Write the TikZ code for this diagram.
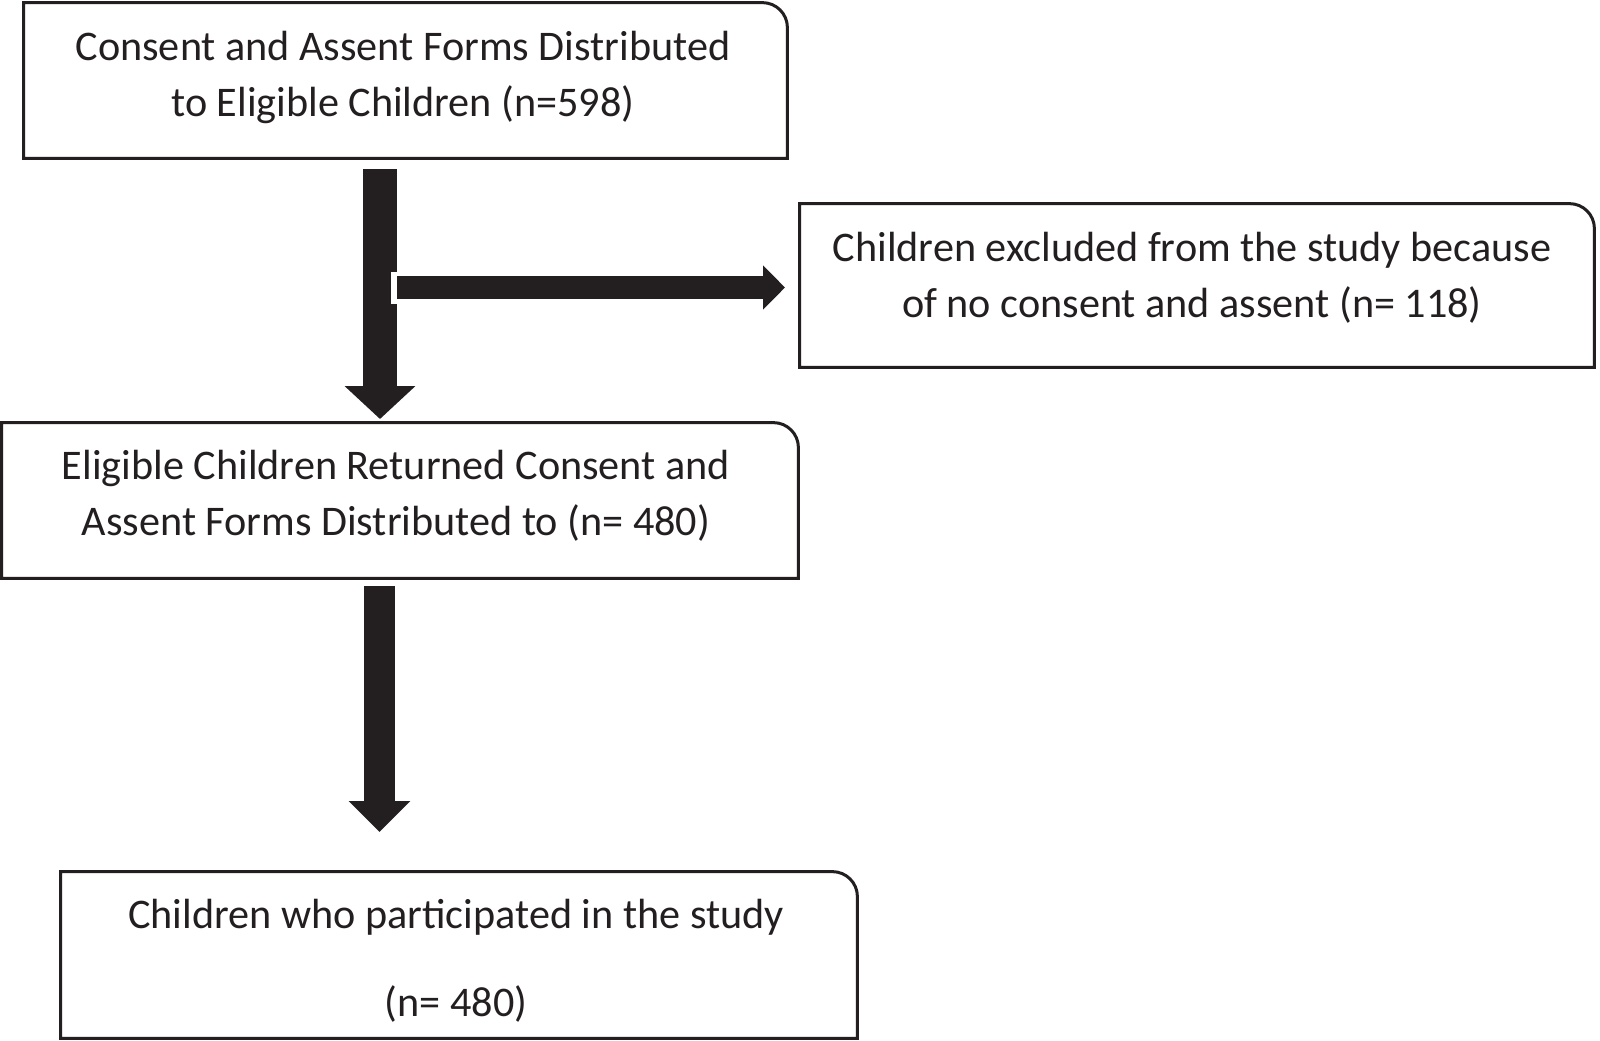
\documentclass[tikz,border=0pt]{standalone}
\usepackage{fontspec}
\setmainfont{Carlito}
\usetikzlibrary{arrows.meta}
\definecolor{ink}{HTML}{231F20}
\newcommand\tlframe[1]{\draw[frameline] (#1.south west) -- (#1.north west) -- ([xshift=-12.5pt]#1.north east) arc[start angle=90,end angle=0,radius=12.5pt] -- (#1.south east) -- cycle;}
\begin{document}
\begin{tikzpicture}[x=0.5pt,y=-0.5pt,
  boxarea/.style 2 args={draw=none,inner sep=0pt,minimum width=#1,minimum height=#2},
  frameline/.style={draw=ink,line width=1.5pt,line join=miter},
  txt/.style={align=center,inner sep=0pt,text=ink,font=\fontsize{21.1pt}{28pt}\selectfont},
  bigdown/.style={draw=ink,line width=17pt,-{Triangle[width=34.5pt,length=16.5pt]}},
  bigdowntwo/.style={draw=ink,line width=15.5pt,-{Triangle[width=30pt,length=15.5pt]}},
  bigright/.style={draw=ink,line width=11.5pt,-{Triangle[width=21.5pt,length=11pt]}}]
\useasboundingbox (0,0) rectangle (1600,1040);
\fill[white] (0,0) rectangle (1600,1040);
% boxes
\node[boxarea={381.5pt}{77.5pt}] (b1) at (405.5,80.5) {};
\node[boxarea={397pt}{81.5pt}] (b2) at (1197,285.5) {};
\node[boxarea={398pt}{77.5pt}] (b3) at (400,500.5) {};
\node[boxarea={398pt}{83pt}] (b4) at (459,955) {};
\tlframe{b1}
\tlframe{b2}
\tlframe{b3}
\tlframe{b4}
% texts
\node[txt] (t1) at (403,77) {Consent and Assent Forms Distributed\\to Eligible Children (n=598)};
\node[txt] (t2) at (1192,277.5) {Children excluded from the study because\\of no consent and assent (n= 118)};
\node[txt] (t3) at (396,496) {Eligible Children Returned Consent and\\Assent Forms Distributed to (n= 480)};
\node[txt] (t4) at (456,961) {Children who participated in the study\\[16pt](n= 480)};
% arrows
\coordinate (a1s) at (380,169);
\coordinate (a1e) at (380,419);
\coordinate (a2s) at (397,287.5);
\coordinate (a2e) at (785,287.5);
\coordinate (a3s) at (379.5,586);
\coordinate (a3e) at (379.5,832);
\draw[bigdown] (a1s) -- (a1e);
\fill[white] (391,272) rectangle (397,304);
\draw[bigright] (a2s) -- (a2e);
\draw[bigdowntwo] (a3s) -- (a3e);
\end{tikzpicture}
\end{document}
